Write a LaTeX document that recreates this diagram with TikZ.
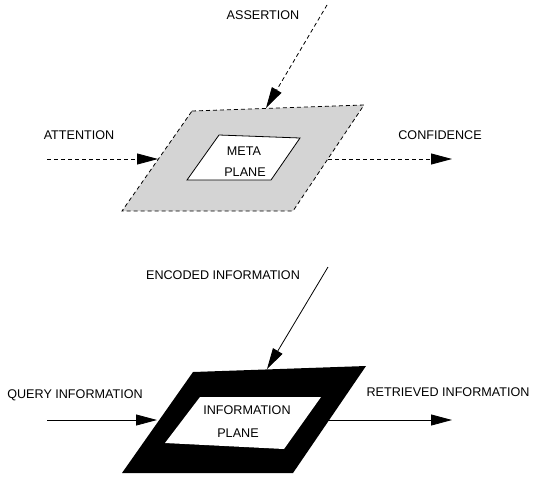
\documentclass[tikz,border=0pt]{standalone}
\usepackage{fontspec}
\setmainfont{Liberation Sans}
\usetikzlibrary{arrows.meta}

\begin{document}
\begin{tikzpicture}[
    x=1pt, y=-1pt,
    every node/.style={font=\fontsize{12.6}{15}\selectfont, inner sep=0pt},
    flow/.style={-{Triangle[length=21pt,width=11pt]}, line width=0.8pt},
    dflow/.style={flow, dash pattern=on 4pt off 3pt},
    metaplane/.style={draw, fill=black!17, line width=0.8pt, dash pattern=on 4pt off 3pt},
    infoplane/.style={fill=black},
    window/.style={draw, fill=white, line width=0.8pt}
]
\useasboundingbox (0,0) rectangle (534,477);

% Meta plane corners
\coordinate (mo1) at (192,111);
\coordinate (mo2) at (364,105);
\coordinate (mo3) at (293,211);
\coordinate (mo4) at (122,211);
\coordinate (mi1) at (219,135);
\coordinate (mi2) at (300,138);
\coordinate (mi3) at (271,180);
\coordinate (mi4) at (187,180);

\path[metaplane] (mo1) -- (mo2) -- (mo3) -- (mo4) -- cycle;
\path[window] (mi1) -- (mi2) -- (mi3) -- (mi4) -- cycle;
\node (meta1) at (244,151) {META};
\node (meta2) at (245,172) {PLANE};

% Meta plane inputs and output
\node (assert) at (263,15) {ASSERTION};
\node (attn) at (79,135) {ATTENTION};
\node (conf) at (440,135) {CONFIDENCE};
\coordinate (assertS) at (327,5);
\coordinate (assertE) at (266,108);
\coordinate (attnS) at (47,159);
\coordinate (attnE) at (158,159);
\coordinate (confS) at (328,159);
\coordinate (confE) at (452,159);

\draw[dflow] (assertS) -- (assertE);
\draw[dflow] (attnS) -- (attnE);
\draw[dflow] (confS) -- (confE);

% Information plane corners
\coordinate (io1) at (193,372);
\coordinate (io2) at (366,366);
\coordinate (io3) at (293,473);
\coordinate (io4) at (122,473);
\coordinate (ii1) at (200,397);
\coordinate (ii2) at (321,397);
\coordinate (ii3) at (284,449);
\coordinate (ii4) at (165,443);

\path[infoplane] (io1) -- (io2) -- (io3) -- (io4) -- cycle;
\path[fill=white] (ii1) -- (ii2) -- (ii3) -- (ii4) -- cycle;
\node (info1) at (247,410) {INFORMATION};
\node (info2) at (238,433) {PLANE};

% Information plane inputs and output
\node (enc) at (223,275) {ENCODED INFORMATION};
\node (query) at (75,395) {QUERY INFORMATION};
\node (retr) at (448,392) {RETRIEVED INFORMATION};
\coordinate (encS) at (328,267);
\coordinate (encE) at (267,369);
\coordinate (queryS) at (47,420);
\coordinate (queryE) at (157,420);
\coordinate (retrS) at (327,420);
\coordinate (retrE) at (452,420);

\draw[flow] (encS) -- (encE);
\draw[flow] (queryS) -- (queryE);
\draw[flow] (retrS) -- (retrE);

\end{tikzpicture}
\end{document}
